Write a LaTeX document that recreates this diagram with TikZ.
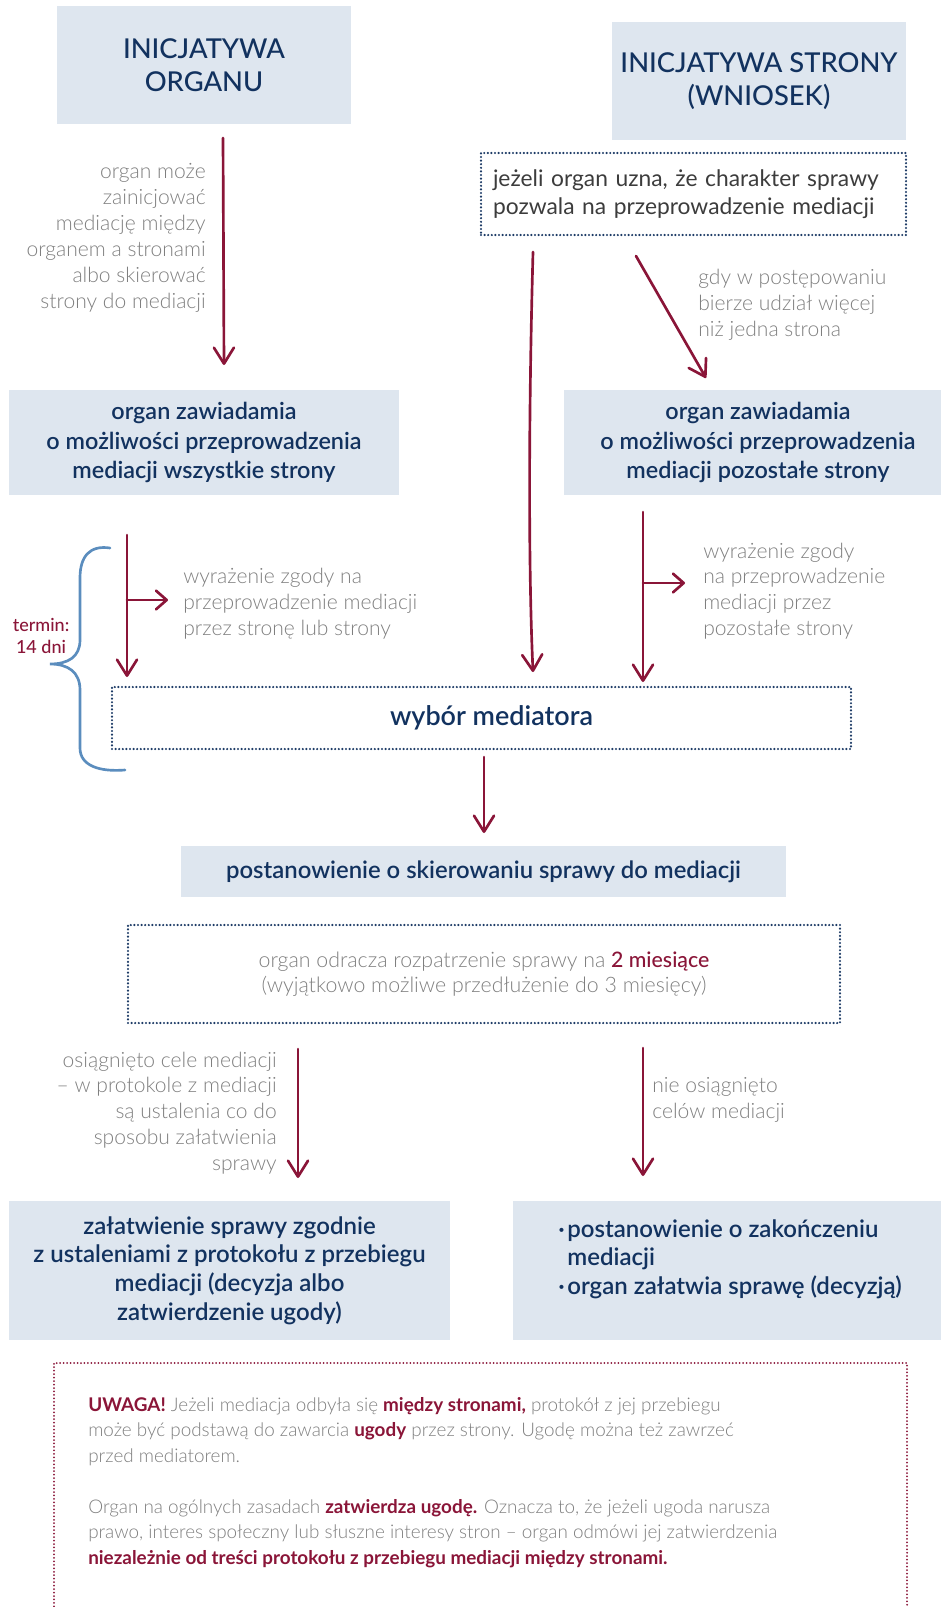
\documentclass[tikz,border=0pt]{standalone}
\usepackage{fontspec}
\setmainfont{Lato}
\newfontfamily\lightfont{Lato Light}
\newfontfamily\semifont{Lato Semibold}
\newfontfamily\medfont{Lato Medium}
\usetikzlibrary{arrows.meta}
\definecolor{boxfill}{HTML}{DEE6EF}
\definecolor{navy}{HTML}{12325F}
\definecolor{dotnavy}{HTML}{1D3B66}
\definecolor{crimson}{HTML}{8A1538}
\definecolor{lgray}{HTML}{7F7F7F}
\definecolor{dgray}{HTML}{3C3C3C}
\definecolor{braceblue}{HTML}{5B8DBE}
\newcommand\fTitle{\fontsize{20.5pt}{24.75pt}\selectfont}
\newcommand\fBox{\fontsize{17.55pt}{22.3pt}\selectfont}
\newcommand\fBoxB{\fontsize{18pt}{21.5pt}\selectfont}
\newcommand\fPost{\fontsize{17.9pt}{21pt}\selectfont}
\newcommand\fLbl{\fontsize{15.8pt}{19.4pt}\selectfont}
\newcommand\fWyb{\fontsize{20.2pt}{24pt}\selectfont}
\newcommand\fOdr{\fontsize{16pt}{18.5pt}\selectfont}
\newcommand\fUw{\fontsize{14.15pt}{19.1pt}\selectfont}
\newcommand\fCond{\fontsize{17.1pt}{21pt}\selectfont}
\newcommand\fTerm{\fontsize{13.5pt}{16.5pt}\selectfont}
\newcommand\hlr[1]{{\normalfont\bfseries\color{crimson}#1}}
\begin{document}
\begin{tikzpicture}[x=0.75pt,y=-0.75pt,
  box/.style={fill=boxfill,text=navy,inner sep=0pt,align=center,font=\semifont\fBox},
  titlebox/.style={box,font=\medfont\fTitle},
  dotbox/.style={draw=dotnavy,line width=1.8pt,dash pattern=on 0pt off 2.7pt,line cap=round,inner sep=0pt},
  reddots/.style={draw=crimson,line width=1.5pt,dash pattern=on 0pt off 2.6pt,line cap=round,inner sep=0pt},
  lbl/.style={text=lgray,font=\lightfont\fLbl,inner sep=0pt},
  arr/.style={draw=crimson,line width=2pt,line cap=round,-{Straight Barb[length=12pt,width=15pt,line cap=round,line join=round]}},
  brarr/.style={draw=crimson,line width=2pt,line cap=round,-{Straight Barb[length=8pt,width=14pt,line cap=round,line join=round]}}
]
\useasboundingbox (0,0) rectangle (941,1607);

% boxes
\node[titlebox,minimum width=220.5pt,minimum height=88.5pt] (org) at (204,65) {INICJATYWA\\ORGANU};
\node[titlebox,minimum width=220.5pt,minimum height=88.5pt] (str) at (759,81) {INICJATYWA STRONY\\(WNIOSEK)};
\node[dotbox,text=dgray,font=\fCond,align=left,text width=300.75pt,inner xsep=9pt,minimum height=61.5pt] (cond) at (693.5,194)
  {jeżeli organ uzna, że charakter sprawy\\pozwala na przeprowadzenie mediacji};

\node[lbl,anchor=east,align=right] (l1) at (206,238)
  {organ może\\zainicjować\\mediację między\\organem a stronami\\albo skierować\\strony do mediacji};
\node[lbl,anchor=west,align=left] (l2) at (698,305)
  {gdy w postępowaniu\\bierze udział więcej\\niż jedna strona};

\node[box,minimum width=292.5pt,minimum height=78.75pt] (zawL) at (204,442.5)
  {organ zawiadamia\\o możliwości przeprowadzenia\\mediacji wszystkie strony};
\node[box,minimum width=291pt,minimum height=78.75pt] (zawR) at (758,442.5)
  {organ zawiadamia\\o możliwości przeprowadzenia\\mediacji pozostałe strony};

\node[lbl,anchor=west,align=left] (l3) at (183,604)
  {wyrażenie zgody na\\przeprowadzenie mediacji\\przez stronę lub strony};
\node[lbl,anchor=west,align=left] (l4) at (703,591)
  {wyrażenie zgody\\na przeprowadzenie\\mediacji przez\\pozostałe strony};
\node[text=crimson,font=\medfont\fTerm,align=center,inner sep=0pt] (term) at (41,636) {termin:\\14 dni};

\node[dotbox,text=navy,font=\semifont\fWyb,minimum width=554.25pt,minimum height=46.5pt] (wyb) at (481.5,718) {\hspace*{15pt}wybór mediatora};
\node[box,font=\semifont\fPost,minimum width=453.75pt,minimum height=38.25pt] (post) at (483.5,871.5) {postanowienie o skierowaniu sprawy do mediacji};
\node[dotbox,text=lgray,font=\lightfont\fOdr,align=center,minimum width=534pt,minimum height=73.5pt] (odr) at (484,974)
  {organ odracza rozpatrzenie sprawy na {\medfont\color{crimson}2 miesiące}\\(wyjątkowo możliwe przedłużenie do 3 miesięcy)};

\node[lbl,anchor=east,align=right] (l5) at (277,1113)
  {osiągnięto cele mediacji\\– w protokole z mediacji\\są ustalenia co do\hspace*{4pt}\\sposobu załatwienia\\sprawy};
\node[lbl,anchor=west,align=left] (l6) at (652,1100) {nie osiągnięto\\celów mediacji};

\node[box,font=\semifont\fBoxB,minimum width=330.75pt,minimum height=104.25pt] (zal) at (229.5,1270.5)
  {załatwienie sprawy zgodnie\\z ustaleniami z protokołu z przebiegu\\mediacji (decyzja albo\\zatwierdzenie ugody)};
\node[box,minimum width=330.75pt,minimum height=104.25pt] (zak) at (733.5,1270.5) {};
\node[text=navy,font=\semifont\fBoxB,align=left,inner sep=0pt,anchor=west] (zakt) at (558,1259)
  {·\hspace{2pt}postanowienie o zakończeniu\\\phantom{·}\hspace{2pt}mediacji\\·\hspace{2pt}organ załatwia sprawę (decyzją)};

\node[reddots,minimum width=639.75pt,minimum height=222.75pt] (uw) at (480.5,1511.5) {};
\node[text=lgray,font=\lightfont\fUw,align=left,inner sep=0pt,anchor=north west] (uwt) at (88,1397)
  {\hlr{UWAGA!} Jeżeli mediacja odbyła się \hlr{między stronami,} protokół z jej przebiegu\\
   może być podstawą do zawarcia \hlr{ugody} przez strony. Ugodę można też zawrzeć\\
   przed mediatorem.\\[19.1pt]
   Organ na ogólnych zasadach \hlr{zatwierdza ugodę.} Oznacza to, że jeżeli ugoda narusza\\
   prawo, interes społeczny lub słuszne interesy stron – organ odmówi jej zatwierdzenia\\
   \hlr{niezależnie od treści protokołu z przebiegu mediacji między stronami.}};

% arrow end points
\coordinate (a1s) at (223,138); \coordinate (a1e) at (224,365);
\coordinate (a2s) at (533,252); \coordinate (a2e) at (533,672);
\coordinate (a3s) at (636,256); \coordinate (a3e) at (706,378);
\coordinate (a4s) at (127,535); \coordinate (a4e) at (127,677);
\coordinate (a4b) at (127,600); \coordinate (a4be) at (168,600);
\coordinate (a5s) at (643,512); \coordinate (a5e) at (643,682);
\coordinate (a5b) at (643,583); \coordinate (a5be) at (685,583);
\coordinate (a6s) at (484,757); \coordinate (a6e) at (484,833);
\coordinate (a7s) at (298,1049); \coordinate (a7e) at (298,1178);
\coordinate (a8s) at (643,1048); \coordinate (a8e) at (643,1176);

\draw[arr] (a1s) -- (a1e);
\draw[arr] (a2s) .. controls (529,400) and (528,560) .. (a2e);
\draw[arr] (a3s) -- (a3e);
\draw[arr] (a4s) -- (a4e);
\draw[brarr] (a4b) -- (a4be);
\draw[arr] (a5s) -- (a5e);
\draw[brarr] (a5b) -- (a5be);
\draw[arr] (a6s) -- (a6e);
\draw[arr] (a7s) -- (a7e);
\draw[arr] (a8s) -- (a8e);

% brace
\coordinate (brt) at (110,548);
\coordinate (brb) at (125,770);
\draw[braceblue,line width=2pt,line cap=round]
  (brt) .. controls (90,545) and (80,556) .. (80,578) -- (80,640)
  .. controls (80,657) and (68,664) .. (50,664)
  .. controls (68,664) and (80,672) .. (80,690) -- (80,748)
  .. controls (80,766) and (100,772) .. (brb);
\end{tikzpicture}
\end{document}
